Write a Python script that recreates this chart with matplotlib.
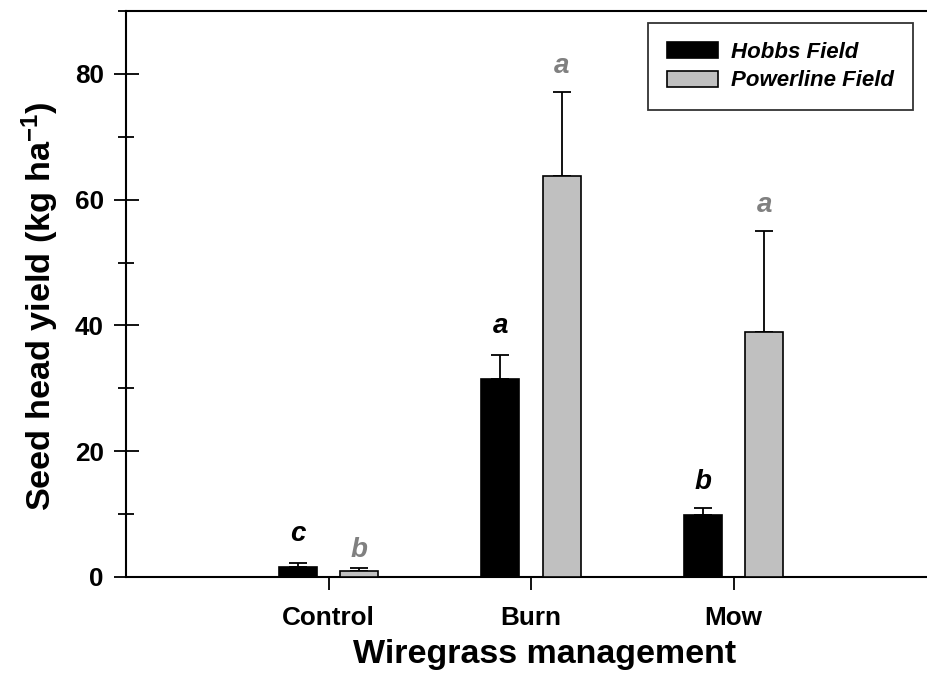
import matplotlib
matplotlib.use("Agg")
import matplotlib.pyplot as plt
import numpy as np

categories = ["Control", "Burn", "Mow"]
series_names = ["Hobbs Field", "Powerline Field"]
hobbs = [1.6, 31.5, 9.8]
hobbs_err = [0.6, 3.8, 1.1]
powerline = [0.9, 63.8, 38.9]
powerline_err = [0.5, 13.3, 16.1]
hobbs_letters = ["c", "a", "b"]
powerline_letters = ["b", "a", "a"]
hobbs_letter_y = [4.8, 37.9, 13.0]
powerline_letter_y = [2.2, 79.2, 57.1]
yticks = [0, 20, 40, 60, 80]

plt.rcParams['font.family'] = ['Liberation Sans', 'DejaVu Sans']
plt.rcParams['font.weight'] = 'bold'
plt.rcParams['mathtext.fontset'] = 'custom'
plt.rcParams['mathtext.rm'] = 'Liberation Sans:bold'
plt.rcParams['mathtext.bf'] = 'Liberation Sans:bold'
plt.rcParams['mathtext.it'] = 'Liberation Sans:bold:italic'

fig = plt.figure(figsize=(9.27, 6.79), dpi=100)
ax = fig.add_axes([126/927, 102/679, 810/927, 566/679])

x = np.arange(1, len(categories) + 1)
w = 0.188
off = 0.151
gray = "#c0c0c0"
ekw = dict(elinewidth=1.3, capthick=1.3, ecolor="black")

ax.bar(x - off, hobbs, w, color="black", edgecolor="black", linewidth=1.2,
       label=series_names[0], zorder=3)
ax.errorbar(x - off, hobbs, yerr=[np.zeros(3), hobbs_err], fmt="none",
            capsize=6.5, zorder=2, **ekw)
ax.bar(x + off, powerline, w, color=gray, edgecolor="black", linewidth=1.2,
       label=series_names[1], zorder=3)
ax.errorbar(x + off, powerline, yerr=[np.zeros(3), powerline_err], fmt="none",
            capsize=6.5, zorder=2, **ekw)

for xi, l, yy in zip(x - off, hobbs_letters, hobbs_letter_y):
    ax.text(xi, yy, l, ha="center", va="bottom", fontsize=20,
            style="italic", fontweight="bold", color="black")
for xi, l, yy in zip(x + off, powerline_letters, powerline_letter_y):
    ax.text(xi, yy, l, ha="center", va="bottom", fontsize=20,
            style="italic", fontweight="bold", color="#808080")

ax.set_xlim(0, 4)
ax.set_ylim(0, 90)
ax.set_xticks(x)
ax.set_xticklabels(categories, fontsize=18.8, fontweight="bold")
ax.set_yticks(yticks)
ax.set_yticklabels([str(t) for t in yticks], fontsize=18.8, fontweight="bold")
ax.set_yticks([10, 30, 50, 70, 90], minor=True)
ax.tick_params(axis="y", which="major", direction="inout", length=18, width=1.3, pad=7)
ax.tick_params(axis="y", which="minor", direction="inout", length=11, width=1.3)
ax.tick_params(axis="x", which="major", direction="out", length=9, width=1.3, pad=12)

for s in ["left", "bottom", "top", "right"]:
    ax.spines[s].set_linewidth(1.5)

ax.set_xlabel("Wiregrass management", fontsize=24.5, fontweight="bold", labelpad=6)
ax.set_ylabel("Seed head yield (kg ha$^{-1}$)", fontsize=24.7, fontweight="bold", labelpad=10)
ax.xaxis.label.set_x(0.517)
ax.yaxis.label.set_y(0.479)

leg = ax.legend(loc="upper right", bbox_to_anchor=(913/927, 1 - 23/679),
                bbox_transform=fig.transFigure, borderaxespad=0,
                fancybox=False, frameon=True, edgecolor="black",
                prop=dict(family="Liberation Sans", style="italic", weight="bold", size=16),
                handlelength=2.3, handleheight=0.75, handletextpad=0.6,
                labelspacing=0.35, borderpad=0.84)
leg.get_frame().set_linewidth(1.3)

fig.savefig("out.png", dpi=100)
